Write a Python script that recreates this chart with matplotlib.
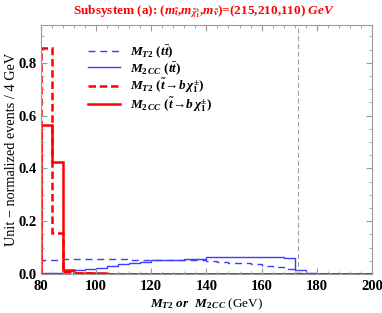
import numpy as np
import matplotlib
matplotlib.use("Agg")
from matplotlib import pyplot as plt
from matplotlib.ticker import MultipleLocator

plt.rcParams['font.family'] = ['Liberation Serif', 'DejaVu Serif']
plt.rcParams['font.weight'] = 'bold'
plt.rcParams['mathtext.fontset'] = 'custom'
plt.rcParams['mathtext.rm'] = 'Liberation Serif:bold'
plt.rcParams['mathtext.it'] = 'Liberation Serif:bold:italic'
plt.rcParams['mathtext.bf'] = 'Liberation Serif:bold'

# bins of 4 GeV from 80 to 200
edges = np.arange(80, 204, 4)

mt2_tt = [0.053, 0.053, 0.056, 0.056, 0.055, 0.055, 0.057, 0.056, 0.054, 0.052,
          0.053, 0.053, 0.054, 0.054, 0.053, 0.050, 0.047, 0.043, 0.040, 0.036,
          0.032, 0.026, 0.018, 0.002, 0, 0, 0, 0, 0, 0]
m2cc_tt = [0.002, 0.005, 0.010, 0.015, 0.019, 0.024, 0.031, 0.036, 0.040, 0.047,
           0.053, 0.053, 0.054, 0.055, 0.057, 0.064, 0.065, 0.065, 0.065, 0.064,
           0.063, 0.063, 0.062, 0.015, 0.002, 0, 0, 0, 0, 0]
mt2_st = [0.855, 0.154, 0.006, 0.003, 0.002, 0.001, 0.001, 0, 0, 0,
          0, 0, 0, 0, 0, 0, 0, 0, 0, 0, 0, 0, 0, 0, 0, 0, 0, 0, 0, 0]
m2cc_st = [0.564, 0.424, 0.016, 0.004, 0.002, 0.002, 0.001, 0.001, 0, 0,
           0, 0, 0, 0, 0, 0, 0, 0, 0, 0, 0, 0, 0, 0, 0, 0, 0, 0, 0, 0]

m_top = 173

fig = plt.figure(figsize=(3.82, 3.13), dpi=100)
ax = fig.add_axes([0.1065, 0.1246, 0.8675, 0.7954])

ax.stairs(mt2_tt, edges, color='#3d3dff', lw=1.0, ls=(0, (5, 3.5)),
          label=r'$M_{T2}\ (t\bar{t})$')
ax.stairs(m2cc_tt, edges, color='#3d3dff', lw=1.0,
          label=r'$M_{2\,CC}\ (t\bar{t})$')
ax.stairs(mt2_st, edges, color='red', lw=1.8, ls=(0, (3, 1.5)),
          label=r'$M_{T2}\ (\tilde{t}\!\rightarrow\! b\,\chi_1^{\pm})$')
ax.stairs(m2cc_st, edges, color='red', lw=1.8,
          label=r'$M_{2\,CC}\ (\tilde{t}\!\rightarrow\! b\,\chi_1^{\pm})$')

ax.axvline(m_top, color='#999999', lw=0.7, ls=(0, (5, 3)))

ax.set_xlim(80, 200)
ax.set_ylim(0, 0.943)
ax.xaxis.set_major_locator(MultipleLocator(20))
ax.xaxis.set_minor_locator(MultipleLocator(4))
ax.yaxis.set_major_locator(MultipleLocator(0.2))
ax.yaxis.set_minor_locator(MultipleLocator(0.05))
ax.yaxis.set_major_formatter(plt.FuncFormatter(lambda v, p: '%.1f' % v))
ax.tick_params(which='both', direction='in', top=True, right=True, color='#999999',
               labelsize=10.5)
ax.tick_params(axis='y', pad=3)
ax.tick_params(axis='x', pad=4)
ax.tick_params(which='major', length=4)
ax.tick_params(which='minor', length=2)
for s in ax.spines.values():
    s.set_color('#999999')
    s.set_linewidth(0.8)

ax.set_xlabel(r'$M_{T2}$ $or$  $M_{2\,CC}$ (GeV)', fontsize=9.5, labelpad=3)
ax.set_ylabel('Unit − normalized events / 4 GeV', fontsize=10.3, labelpad=0)
fig.suptitle(r'Subsystem (a): ($m_{\tilde{t}}$,$m_{\tilde{\chi}_1^{\pm}}$,$m_{\tilde{\nu}}$)=(215,210,110) $GeV$',
             color='red', fontsize=9.5, fontweight='bold', x=0.535, y=0.99)

ax.legend(loc='upper left', bbox_to_anchor=(0.107, 0.975), frameon=False, fontsize=9.5,
          handlelength=2.4, handletextpad=0.8, labelspacing=0.0)

fig.savefig('out.png', dpi=100)
